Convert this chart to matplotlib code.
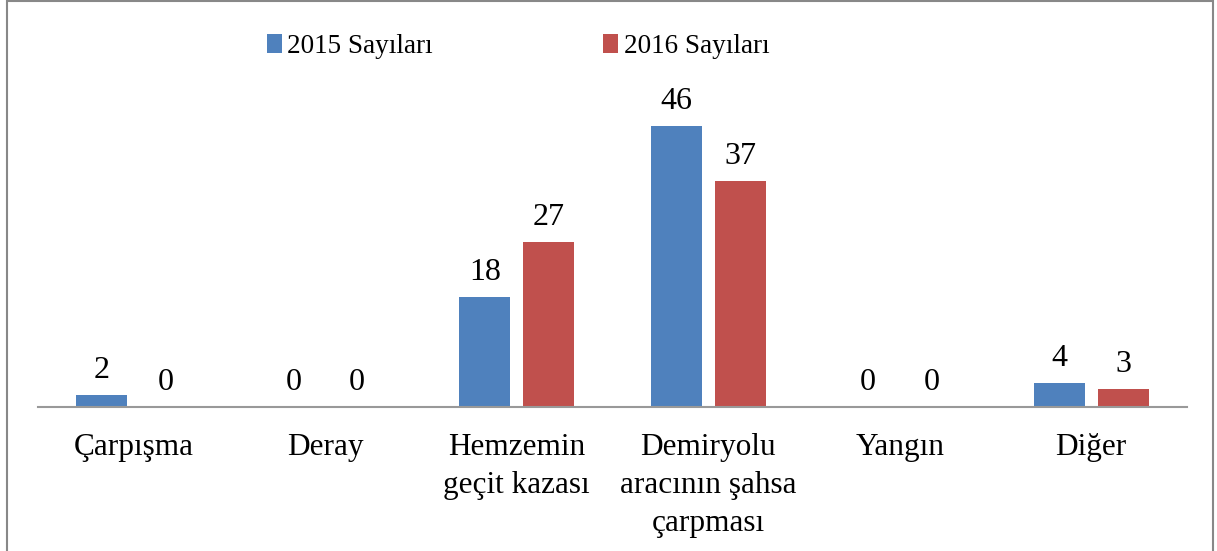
import matplotlib.pyplot as plt
import numpy as np
from matplotlib.patches import Rectangle

categories = ['Çarpışma', 'Deray', 'Hemzemin\ngeçit kazası',
              'Demiryolu\naracının şahsa\nçarpması', 'Yangın', 'Diğer']
values_2015 = [2, 0, 18, 46, 0, 4]
values_2016 = [0, 0, 27, 37, 0, 3]
series_names = ['2015 Sayıları', '2016 Sayıları']

plt.rcParams['font.family'] = ['Liberation Serif', 'DejaVu Serif']

fig = plt.figure(figsize=(12.17, 5.51), dpi=100)
ax = fig.add_axes([38/1217, 144/551, 1149/1217, 336/551])

x = np.arange(len(categories))
w = 0.266
off = 0.167
b1 = ax.bar(x - off, values_2015, w, color='#4F81BD', label=series_names[0])
b2 = ax.bar(x + off, values_2016, w, color='#C0504D', label=series_names[1])

for bars in (b1, b2):
    for rect in bars:
        h = rect.get_height()
        ax.annotate(str(int(h)), (rect.get_x() + rect.get_width()/2, h),
                    xytext=(0, 7), textcoords='offset points',
                    ha='center', va='bottom', fontsize=23)

ax.set_xlim(-0.5, 5.5)
ax.set_ylim(0, 55)
ax.set_xticks(x)
ax.set_xticklabels(categories, fontsize=22.5, linespacing=1.4, va='top')
ax.tick_params(axis='x', length=0, pad=19)
ax.set_yticks([])
for s in ['top', 'right', 'left']:
    ax.spines[s].set_visible(False)
ax.spines['bottom'].set_color('#999999')
ax.spines['bottom'].set_linewidth(1.5)

ax.legend(loc='center', bbox_to_anchor=(518/1217, 1 - 46/551),
          bbox_transform=fig.transFigure, ncol=2, frameon=False,
          fontsize=19.5, handlelength=0.55, handleheight=0.7,
          handletextpad=0.2, columnspacing=6.3)

fig.patches.append(Rectangle((7/1217, -0.01), 1206/1217, 1.008,
                             transform=fig.transFigure, fill=False,
                             edgecolor='#888888', linewidth=1.5))

fig.savefig('out.png', dpi=100)
